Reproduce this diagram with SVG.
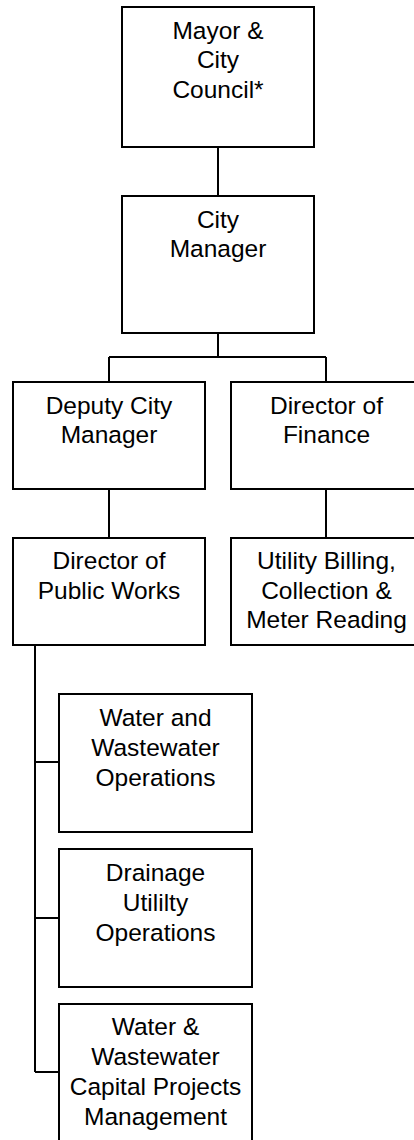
<svg xmlns="http://www.w3.org/2000/svg" width="414" height="1140" viewBox="0 0 414 1140">
<style>
.box{fill:#fff;stroke:#000;stroke-width:2}
.ln{fill:none;stroke:#000;stroke-width:2}
text{font-family:"Liberation Sans",Arial,sans-serif;font-size:24.5px;fill:#000;text-anchor:middle}
</style>
<rect width="414" height="1140" fill="#fff"/>
<g id="connectors">
<path class="ln" d="M218,147 V196"/>
<path class="ln" d="M218,333 V357 M109,357 H326 M109,357 V382 M326,357 V382"/>
<path class="ln" d="M109,489 V538 M326,489 V538"/>
<path class="ln" d="M35,645 V1072 M35,762 H59 M35,918 H59 M35,1072 H59"/>
</g>
<g id="mayor">
<rect class="box" x="122" y="7" width="192" height="140"/>
<text x="218" y="38.5">Mayor &amp;</text>
<text x="218" y="68">City</text>
<text x="218" y="97.5">Council*</text>
</g>
<g id="city-manager">
<rect class="box" x="122" y="196" width="192" height="137"/>
<text x="218" y="228">City</text>
<text x="218" y="257">Manager</text>
</g>
<g id="deputy">
<rect class="box" x="13" y="382" width="192" height="107"/>
<text x="109" y="413.5">Deputy City</text>
<text x="109" y="443">Manager</text>
</g>
<g id="finance">
<rect class="box" x="231" y="382" width="192" height="107"/>
<text x="326.5" y="413.5">Director of</text>
<text x="326.5" y="443">Finance</text>
</g>
<g id="public-works">
<rect class="box" x="13" y="538" width="192" height="107"/>
<text x="109" y="569">Director of</text>
<text x="109" y="598.5">Public Works</text>
</g>
<g id="utility-billing">
<rect class="box" x="231" y="538" width="192" height="107"/>
<text x="326.5" y="569">Utility Billing,</text>
<text x="326.5" y="598.5">Collection &amp;</text>
<text x="326.5" y="628">Meter Reading</text>
</g>
<g id="water-ops">
<rect class="box" x="59" y="694" width="193" height="138"/>
<text x="155.5" y="726">Water and</text>
<text x="155.5" y="756">Wastewater</text>
<text x="155.5" y="785.5">Operations</text>
</g>
<g id="drainage">
<rect class="box" x="59" y="849" width="193" height="138"/>
<text x="155.5" y="881">Drainage</text>
<text x="155.5" y="911">Utililty</text>
<text x="155.5" y="940.5">Operations</text>
</g>
<g id="capital-projects">
<rect class="box" x="59" y="1004" width="193" height="138"/>
<text x="155.5" y="1035">Water &amp;</text>
<text x="155.5" y="1065">Wastewater</text>
<text x="155.5" y="1095">Capital Projects</text>
<text x="155.5" y="1125">Management</text>
</g>
</svg>
